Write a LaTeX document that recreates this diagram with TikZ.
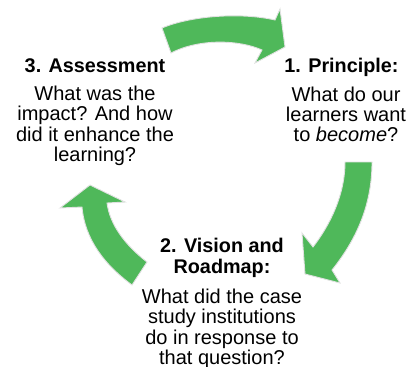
\documentclass[tikz,border=0pt]{standalone}
\usepackage{fontspec}
\setmainfont{Liberation Sans}
\definecolor{arrowgreen}{RGB}{79,184,90}
\definecolor{rimgray}{RGB}{225,225,225}
\tikzset{
  cyclearrow/.style={fill=arrowgreen, draw=rimgray, line width=0.9pt, line join=miter},
  headtext/.style={font=\fontsize{19.8}{21}\selectfont\bfseries, align=center, inner sep=0pt, anchor=base},
  bodytext/.style={font=\fontsize{20}{20.3}\selectfont, align=center, inner sep=0pt, anchor=base}
}
\begin{document}
\begin{tikzpicture}[x=1pt,y=-1pt]
\useasboundingbox (0,0) rectangle (414,366);
\clip (0,0) rectangle (414,366);
% top arrow (3 -> 1)
\path[cyclearrow] (162,28) .. controls (190,16) and (240,12) .. (275,20)
  -- (280,9) -- (285,47) -- (255,63) -- (262,50)
  .. controls (240,40) and (200,38) .. (171,53) -- cycle;
% right arrow (1 -> 2)
\path[cyclearrow] (345,162) -- (372,162)
  .. controls (372,200) and (360,235) .. (332,270)
  -- (340,283) -- (305,274) -- (302,233) -- (313,247)
  .. controls (330,225) and (345,195) .. (345,162) -- cycle;
% left arrow (2 -> 3)
\path[cyclearrow] (132,285) -- (147,262)
  .. controls (125,245) and (110,225) .. (107,203)
  -- (125,202) -- (90,185) -- (60,208) -- (82,207)
  .. controls (85,240) and (105,265) .. (132,285) -- cycle;
% texts (anchor base = baseline of the last line)
\node[headtext] (h3) at (95,72.5) {3. Assessment};
\node[bodytext] (b3) at (95,161.5) {What was the\\impact? And how\\did it enhance the\\learning?};
\node[headtext] (h1) at (341.5,73) {1. Principle:};
\node[bodytext] (b1) at (346,142) {What do our\\learners want\\to \textit{become}?};
\node[headtext] (h2) at (222,273.7) {2. Vision and\\Roadmap:};
\node[bodytext] (b2) at (222,364.5) {What did the case\\study institutions\\do in response to\\that question?};
\end{tikzpicture}
\end{document}
